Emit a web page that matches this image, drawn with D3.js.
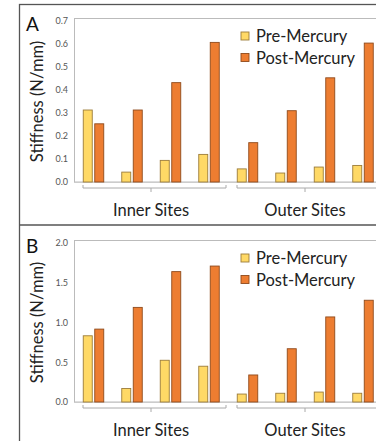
<!DOCTYPE html>
<html><head><meta charset="utf-8">
<script src="https://cdn.jsdelivr.net/npm/d3@7"></script>
<style>body{margin:0;background:#fff}svg{display:block}</style>
</head><body>
<script>
const categories = ["In1","In2","In3","In4","Out1","Out2","Out3","Out4"];
const groups = ["Inner Sites","Outer Sites"];
const seriesNames = ["Pre-Mercury","Post-Mercury"];
const preA  = [0.313,0.043,0.094,0.12,0.057,0.039,0.065,0.072];
const postA = [0.253,0.313,0.432,0.607,0.171,0.31,0.453,0.604];
const preB  = [0.833,0.17,0.525,0.45,0.10,0.11,0.125,0.11];
const postB = [0.917,1.19,1.64,1.71,0.34,0.67,1.07,1.28];
const ticksA = [0,0.1,0.2,0.3,0.4,0.5,0.6,0.7];
const ticksB = [0,0.5,1.0,1.5,2.0];

const W=376,H=441;
const font="Lato, 'Open Sans', sans-serif";
const svg=d3.select("body").append("svg").attr("width",W).attr("height",H);
const fills=["#FFD966","#ED7D31"], strokes=["#9c7c3a","#8f4a1c"];

// outer frame
svg.append("rect").attr("x",19.5).attr("y",4.5).attr("width",400).attr("height",500)
  .attr("fill","none").attr("stroke","#555").attr("stroke-width",1.3);
svg.append("line").attr("x1",19).attr("x2",W).attr("y1",225).attr("y2",225).attr("stroke","#555").attr("stroke-width",1.3);

const x=d3.scaleBand().domain(categories).range([74,382]);

function panel(label,pre,post,ticks,maxV,top,base,fmt){
  const y=d3.scaleLinear().domain([0,maxV]).range([base,top]);
  const g=svg.append("g");
  g.append("rect").attr("x",74.5).attr("y",top-2.5).attr("width",330).attr("height",base-top+2.5)
   .attr("fill","none").attr("stroke","#bbb").attr("stroke-width",1);
  const ax=g.append("g").attr("transform","translate(72,0)")
   .call(d3.axisLeft(y).tickValues(ticks).tickFormat(d3.format(fmt)).tickSize(0).tickPadding(4));
  ax.select(".domain").remove();
  ax.selectAll("text").attr("font-family",font).attr("font-size",9).attr("fill","#555");
  // baseline
  g.append("line").attr("x1",74).attr("x2",W).attr("y1",base+0.5).attr("y2",base+0.5).attr("stroke","#ccc");
  [pre,post].forEach((vals,si)=>{
    g.selectAll(null).data(vals).join("rect")
     .attr("x",(d,i)=>x(categories[i])+x.bandwidth()/2+(si===0?-10:1.5))
     .attr("y",d=>y(d)).attr("width",9).attr("height",d=>base-y(d))
     .attr("fill",fills[si]).attr("stroke",strokes[si]).attr("stroke-width",0.9);
  });
  g.append("text").attr("x",26).attr("y",top+10).attr("font-family",font).attr("font-size",19).attr("fill","#111").text(label);
  g.append("text").attr("transform",`translate(43,${(top+base)/2}) rotate(-90)`).attr("text-anchor","middle")
   .attr("font-family",font).attr("font-size",16.5).attr("fill","#222").text("Stiffness (N/mm)");
  // group brackets
  const by=base+6;
  [[0,3],[4,7]].forEach(([a,b],gi)=>{
    const x0=x(categories[a])+9, x1=x(categories[b])+x.bandwidth()-2;
    const cx=(x(categories[a])+x(categories[b])+x.bandwidth())/2;
    g.append("path").attr("d",`M${x0},${by-3}V${by}H${x1}V${by-3}M${cx},${by}V${by+4}`)
     .attr("fill","none").attr("stroke","#aaa").attr("stroke-width",1);
    g.append("text").attr("x",cx).attr("y",base+34).attr("text-anchor","middle")
     .attr("font-family",font).attr("font-size",16.5).attr("fill","#222").text(groups[gi]);
  });
  // legend
  seriesNames.forEach((s,i)=>{
    g.append("rect").attr("x",241).attr("y",top+11+i*21.5).attr("width",8).attr("height",8)
     .attr("fill",fills[i]).attr("stroke",strokes[i]).attr("stroke-width",0.9);
    g.append("text").attr("x",256).attr("y",top+21+i*21.5).attr("font-family",font).attr("font-size",16.5).attr("fill","#222").text(s);
  });
}
panel("A",preA,postA,ticksA,0.7,21,182,".1f");
panel("B",preB,postB,ticksB,2.0,243,402,".1f");
</script>
</body></html>
